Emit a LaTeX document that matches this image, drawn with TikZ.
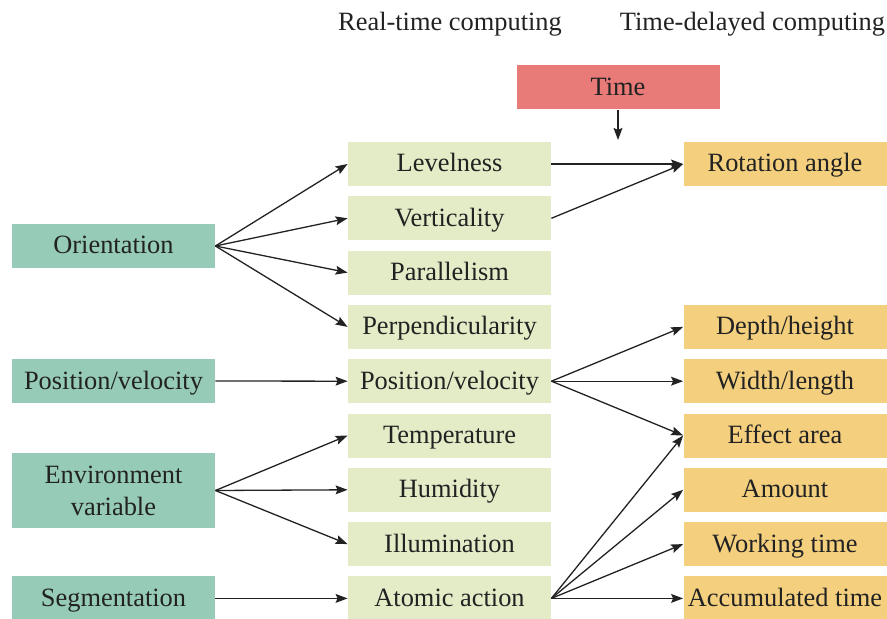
\documentclass[tikz,border=0pt]{standalone}
\usepackage{fontspec}
\setmainfont{Liberation Serif}
\usetikzlibrary{arrows.meta}
\definecolor{srcfill}{RGB}{150,204,183}
\definecolor{midfill}{RGB}{227,236,199}
\definecolor{resfill}{RGB}{243,207,126}
\definecolor{timefill}{RGB}{232,122,120}
\definecolor{ink}{RGB}{34,34,34}
\begin{document}
\begin{tikzpicture}[x=0.5pt,y=-0.5pt,
  basebox/.style={minimum width=101.5pt,minimum height=22pt,inner sep=0pt,
    text=ink,font=\fontsize{13.2}{16}\selectfont,align=center},
  box/.style={basebox,text height=10pt,text depth=2pt},
  src/.style={box,fill=srcfill},
  mid/.style={box,fill=midfill},
  res/.style={box,fill=resfill},
  head/.style={text=ink,font=\fontsize{13.2}{16}\selectfont,inner sep=0pt},
  arr/.style={draw=ink,line width=0.65pt,-{Stealth[length=6pt,width=4.4pt,inset=1pt]}}]
\useasboundingbox (0,0) rectangle (887,619);

% column headings
\node[head] (hreal) at (450,24) {Real-time computing};
\node[head] (hdelay) at (752.5,24) {Time-delayed computing};

% input factors
\node[src] (orient) at (113.5,246) {Orientation};
\node[src] (posin)  at (113.5,381) {Position/velocity};
\node[basebox, fill=srcfill, minimum height=37.5pt] (env) at (113.5,490.5) {Environment\\variable};
\node[src] (seg)    at (113.5,598.4) {Segmentation};

% real-time quantities
\node[mid] (level)  at (449.5,164.0) {Levelness};
\node[mid] (vert)   at (449.5,218.3) {Verticality};
\node[mid] (para)   at (449.5,272.6) {Parallelism};
\node[mid] (perp)   at (449.5,326.9) {Perpendicularity};
\node[mid] (posmid) at (449.5,381.2) {Position/velocity};
\node[mid] (temp)   at (449.5,435.5) {Temperature};
\node[mid] (humid)  at (449.5,489.8) {Humidity};
\node[mid] (illum)  at (449.5,544.1) {Illumination};
\node[mid] (atomic) at (449.5,598.4) {Atomic action};

% time-delayed quantities
\node[res] (rot)    at (785,164.0) {Rotation angle};
\node[res] (depth)  at (785,326.9) {Depth/height};
\node[res] (width)  at (785,381.2) {Width/length};
\node[res] (effect) at (785,435.5) {Effect area};
\node[res] (amount) at (785,489.8) {Amount};
\node[res] (work)   at (785,544.1) {Working time};
\node[res] (accum)  at (785,598.4) {Accumulated time};

% time input
\node[box, fill=timefill] (time) at (618,87.5) {Time};
\coordinate (timeend) at (618,140);
\draw[arr] (time.south) -- (timeend);

% connectors
\foreach \t in {level,vert,para,perp} \draw[arr] (orient.east) -- (\t.west);
\draw[arr] (posin.east) -- (posmid.west);
\foreach \t in {temp,humid,illum} \draw[arr] (env.east) -- (\t.west);
\draw[arr] (seg.east) -- (atomic.west);
\draw[arr] (level.east) -- (rot.west);
\draw[arr] (vert.east) -- (rot.west);
\foreach \t in {depth,width,effect} \draw[arr] (posmid.east) -- (\t.west);
\foreach \t in {effect,amount,work,accum} \draw[arr] (atomic.east) -- (\t.west);
\end{tikzpicture}
\end{document}
